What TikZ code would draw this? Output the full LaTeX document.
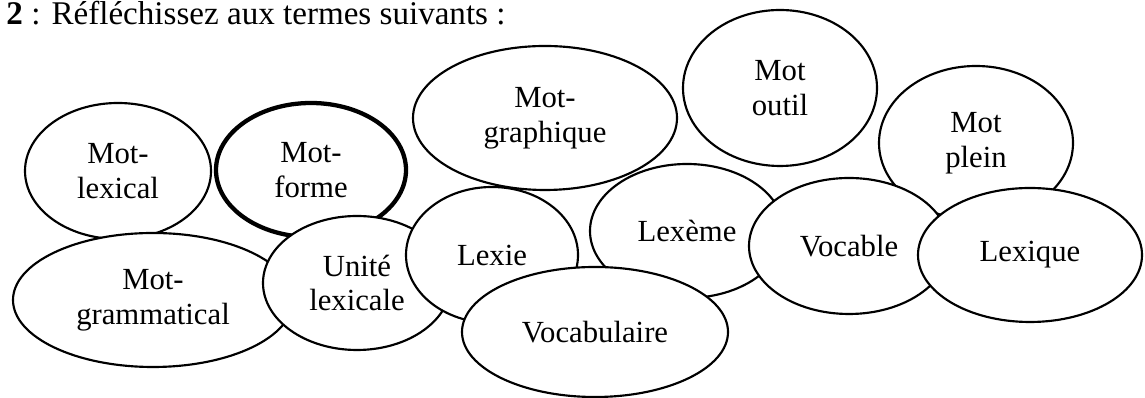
\documentclass[tikz,border=0pt]{standalone}
\usepackage{fontspec}
\setmainfont{Liberation Serif}
\usetikzlibrary{shapes.geometric}

\begin{document}
\begin{tikzpicture}[x=0.42pt,y=-0.42pt,
	term/.style 2 args={ellipse, draw, fill=white, line width=0.9pt, inner sep=0pt, outer sep=0pt,
		minimum width=#1*0.84pt, minimum height=#2*0.84pt, align=center,
		font=\fontsize{12.9}{14.6}\selectfont},
	gras/.style={line width=1.8pt}]
	\useasboundingbox (0,0) rectangle (1145,398);
	\node[anchor=base west, inner sep=0pt, font=\fontsize{13.9}{16}\selectfont] (titre) at (6,25) {\textbf{2} : Réfléchissez aux termes suivants :};
	\node[term={93}{68}] (lexical) at (118,171) {Mot-\\lexical};
	\node[term={95}{67}, gras] (forme) at (311,170) {Mot-\\forme};
	\node[term={132}{72}] (graphique) at (545,118) {Mot-\\graphique};
	\node[term={97}{78}] (outil) at (780,88) {Mot\\outil};
	\node[term={97}{77}] (plein) at (976,143) {Mot\\plein};
	\node[term={140}{67}] (grammatical) at (153,300) {Mot-\\grammatical};
	\node[term={94}{67}] (unite) at (357,283) {Unité\\lexicale};
	\node[term={86}{68}] (lexie) at (492,255) {Lexie};
	\node[term={97}{67}] (lexeme) at (687,231) {Lexème};
	\node[term={133}{65}] (vocabulaire) at (595,332) {Vocabulaire};
	\node[term={100}{68}] (vocable) at (849,246) {Vocable};
	\node[term={112}{67}] (lexique) at (1030,255) {Lexique};
\end{tikzpicture}
\end{document}
